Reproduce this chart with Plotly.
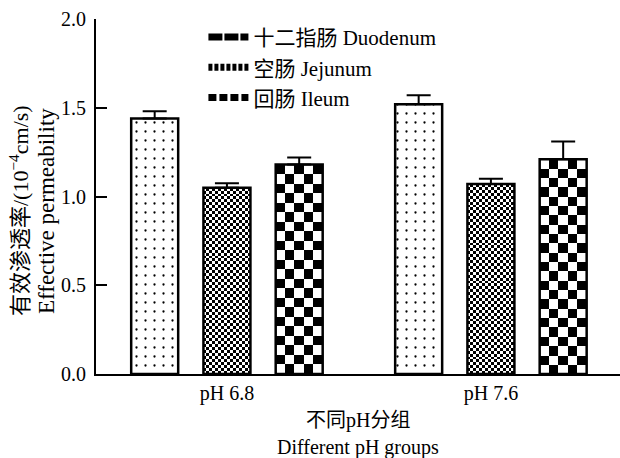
import numpy as np
import plotly.graph_objects as go

# pH groups and intestinal segments
groups = ["pH 6.8", "pH 7.6"]
segments = ["十二指肠 Duodenum", "空肠 Jejunum", "回肠 Ileum"]

# effective permeability (10^-4 cm/s), mean and SD per segment across the pH groups
duodenum = [1.44, 1.52]
jejunum = [1.05, 1.07]
ileum = [1.18, 1.21]
duodenum_sd = [0.04, 0.05]
jejunum_sd = [0.025, 0.03]
ileum_sd = [0.04, 0.10]

y_ticks = [0.0, 0.5, 1.0, 1.5, 2.0]

FONT = "Liberation Serif, 'Noto Sans CJK SC', serif"
BAR_W = 0.178
OFFSETS = [-0.2737, 0.0, 0.2737]
group_pos = np.arange(len(groups), dtype=float)

fig = go.Figure()


def checker(xc, top, ncols, cell_ratio):
    """Black/white checkerboard filling one bar (heatmap under the bar outline)."""
    x_edges = np.linspace(xc - BAR_W / 2, xc + BAR_W / 2, ncols + 1)
    cell_h = (BAR_W / ncols) * cell_ratio
    nrows = max(1, int(round(top / cell_h)))
    y_edges = np.linspace(0, top, nrows + 1)
    z = (np.add.outer(np.arange(nrows), np.arange(ncols)) % 2).astype(float)
    return go.Heatmap(
        x=x_edges, y=y_edges, z=z, zmin=0, zmax=1,
        colorscale=[[0, "white"], [1, "black"]],
        showscale=False, hoverinfo="skip",
    )


# pixels per x unit / pixels per y unit, so checker cells come out square
PX_X, PX_Y = 264.0, 177.5
cell_ratio = PX_X / PX_Y

for xc, v in zip(group_pos + OFFSETS[1], jejunum):
    fig.add_trace(checker(xc, v, 16, cell_ratio))
for xc, v in zip(group_pos + OFFSETS[2], ileum):
    fig.add_trace(checker(xc, v, 5, cell_ratio))

err_style = dict(type="data", symmetric=False, color="black", thickness=2, width=12)

# Duodenum: dotted fill
fig.add_trace(go.Bar(
    x=group_pos + OFFSETS[0], y=duodenum, width=BAR_W, showlegend=False,
    marker=dict(color="white", line=dict(color="black", width=2.5),
                pattern=dict(shape=".", fgcolor="black", bgcolor="white",
                             size=9, solidity=0.05, fillmode="replace")),
    error_y=dict(array=duodenum_sd, arrayminus=[0] * len(groups), **err_style),
))
# Jejunum and ileum: outlines over the checker fills
for off, vals, sd in [(OFFSETS[1], jejunum, jejunum_sd), (OFFSETS[2], ileum, ileum_sd)]:
    fig.add_trace(go.Bar(
        x=group_pos + off, y=vals, width=BAR_W, showlegend=False,
        marker=dict(color="rgba(0,0,0,0)", line=dict(color="black", width=2.5)),
        error_y=dict(array=sd, arrayminus=[0] * len(groups), **err_style),
    ))

# legend keys
legend_dash = ["14px,2px", "4px,2px", "8px,3px"]
for name, dash in zip(segments, legend_dash):
    fig.add_trace(go.Scatter(
        x=[None], y=[None], mode="lines", name=name,
        line=dict(color="black", width=7, dash=dash),
    ))

fig.update_layout(
    width=620, height=458,
    margin=dict(l=96, r=0, t=19, b=84),
    paper_bgcolor="white", plot_bgcolor="white",
    font=dict(family=FONT, size=20, color="black"),
    barmode="overlay",
    showlegend=True,
    legend=dict(x=0.205, y=1.006, xanchor="left", yanchor="top",
                bgcolor="rgba(0,0,0,0)", font=dict(size=21),
                tracegroupgap=0, itemwidth=40),
    xaxis=dict(range=[-0.496, 1.489], tickvals=list(group_pos), ticktext=groups,
               showline=True, linecolor="black", linewidth=2, ticks="",
               showgrid=False, zeroline=False, tickfont=dict(size=20)),
    yaxis=dict(range=[0, 2.0], tickvals=y_ticks, tickformat=".1f",
               showline=True, linecolor="black", linewidth=2,
               ticks="inside", ticklen=11, tickwidth=2, tickcolor="black",
               ticklabelstandoff=4,
               showgrid=False, zeroline=False, tickfont=dict(size=20)),
    annotations=[
        dict(text="有效渗透率/(10<sup>−4</sup>cm/s)", textangle=-90,
             xref="paper", yref="paper", x=0, y=0.459, xshift=-77,
             xanchor="center", yanchor="middle", showarrow=False,
             font=dict(size=22)),
        dict(text="Effective permeability", textangle=-90,
             xref="paper", yref="paper", x=0, y=0.459, xshift=-50,
             xanchor="center", yanchor="middle", showarrow=False,
             font=dict(size=23)),
        dict(text="不同pH分组", xref="paper", yref="paper", x=0.5, y=-0.132,
             xanchor="center", yanchor="middle", showarrow=False,
             font=dict(size=20)),
        dict(text="Different pH groups", xref="paper", yref="paper", x=0.5, y=-0.206,
             xanchor="center", yanchor="middle", showarrow=False,
             font=dict(size=20)),
    ],
)

fig.write_html("out.html")
